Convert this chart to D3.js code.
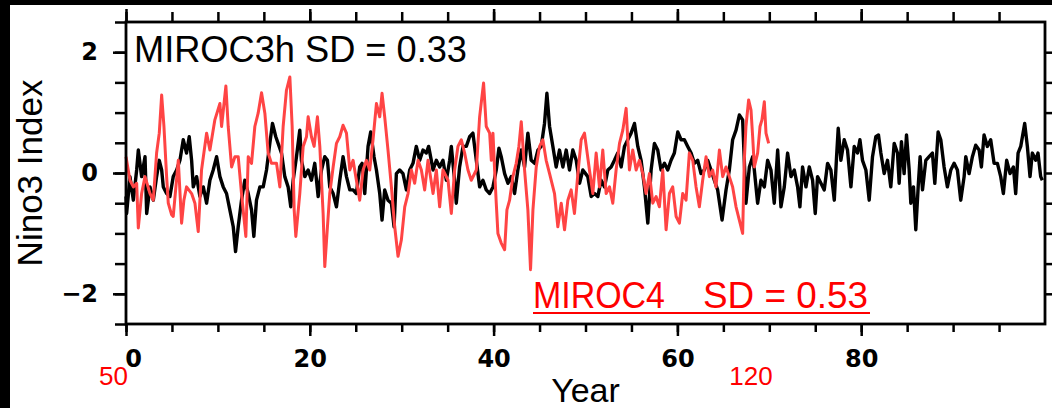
<meta charset='utf-8'>
<script src="https://d3js.org/d3.v7.min.js"></script>
<style>
  body { margin: 0; background: #fff; }
</style>
<body></body>
<script>

// DATA (years since start / index value)
var miroc3hYear = [0,0.07,0.43,0.80,1.16,1.34,1.70,2.07,2.25,2.61,2.97,3.33,3.62,3.88,4.06,4.42,4.78,5.14,5.51,5.87,
  6.23,6.59,6.88,7.14,7.32,7.68,8.04,8.41,8.77,9.13,9.49,9.86,10.22,10.58,10.94,11.30,11.67,11.92,12.21,12.57,
  12.93,13.30,13.66,13.91,14.20,14.57,14.93,15.29,15.65,15.94,16.30,16.92,17.28,17.64,17.93,18.19,18.55,18.91,19.09,19.46,
  19.82,20.18,20.54,20.91,21.27,21.63,21.92,22.17,22.54,22.90,23.26,23.62,23.99,24.35,24.71,25.07,25.43,25.69,25.98,26.34,
  26.63,26.99,27.25,27.61,27.86,28.15,28.51,28.88,29.17,29.42,29.78,30.14,30.51,30.87,31.23,31.59,31.96,32.32,32.68,32.93,
  33.22,33.41,33.77,34.13,34.49,34.86,35.22,35.40,35.76,35.94,36.30,36.67,37.03,37.39,37.75,38.12,38.48,38.84,39.20,39.57,
  39.93,40.29,40.58,40.83,41.20,41.56,41.92,42.28,42.64,43.01,43.37,43.73,44.09,44.46,44.82,45.18,45.54,45.80,46.09,46.45,
  46.81,47.17,47.54,47.90,48.26,48.62,48.99,49.35,49.71,50.25,50.62,50.98,51.34,51.70,52.07,52.43,52.79,53.15,53.51,53.88,
  54.24,54.60,54.96,55.33,55.69,56.05,56.41,56.78,57.14,57.50,57.86,58.22,58.59,58.95,59.31,59.67,60.04,60.40,60.76,61.12,
  61.49,61.85,62.21,62.57,62.93,63.30,63.66,64.02,64.38,64.86,65.29,65.65,66.01,66.38,66.74,67.10,67.28,67.46,67.83,68.19,
  68.37,68.73,69.09,69.46,69.82,70.18,70.54,70.91,71.27,71.63,71.99,72.36,72.72,73.08,73.33,73.62,73.99,74.35,74.71,75.00,
  75.25,75.62,75.98,76.34,76.70,77.07,77.32,77.50,77.79,78.15,78.51,78.88,79.24,79.60,79.86,80.14,80.51,80.87,81.23,81.59,
  81.88,82.14,82.50,82.86,83.22,83.59,83.95,84.13,84.38,84.67,84.93,85.22,85.40,85.69,85.94,86.20,86.41,86.67,87.03,87.39,
  87.75,88.01,88.37,88.66,89.02,89.38,89.75,90.11,90.47,90.83,91.20,91.38,91.74,92.10,92.46,92.83,93.08,93.37,93.73,94.09,
  94.46,94.82,95.18,95.47,95.83,96.20,96.56,96.81,97.07,97.36,97.79,98.08,98.37,98.62,98.99,99.24,99.53,99.71];
var miroc3h = [-0.39,-0.67,-0.06,-0.45,0.05,0.38,-0.06,0.27,-0.67,-0.23,-0.45,-0.06,0.21,0.05,-0.23,-0.34,-0.39,-0.06,0.05,0.21,
  0.55,0.33,0.60,0.21,-0.23,-0.06,-0.39,-0.23,-0.50,-0.12,0.05,0.27,-0.06,-0.23,-0.34,-0.61,-0.89,-1.30,-0.89,-0.45,
  -0.12,-0.34,-0.61,-1.05,-0.45,-0.23,-0.23,0.05,0.49,0.82,0.60,0.33,-0.06,-0.23,-0.56,-0.12,0.27,0.71,0.21,-0.06,
  0.05,-0.12,0.16,-0.39,0.05,0.27,0.21,-0.23,-0.34,-0.56,-0.12,0.27,-0.06,-0.28,-0.28,-0.34,0.10,0.16,-0.34,0.44,
  0.68,0.27,0.05,-0.34,-0.78,-0.28,-0.45,-0.50,-0.89,-0.01,0.05,-0.01,-0.28,0.05,0.16,0.44,0.21,0.38,0.33,0.44,
  0.21,0.05,0.21,0.10,0.21,-0.12,0.21,0.44,-0.12,-0.50,0.10,0.44,0.44,0.60,0.66,0.21,-0.23,-0.12,-0.28,-0.34,
  -0.23,0.05,0.41,0.27,-0.01,-0.17,-0.06,-0.34,0.05,0.38,0.10,0.66,0.21,0.16,0.38,0.44,0.82,1.32,0.77,0.44,
  0.10,0.38,0.10,0.38,0.05,0.38,0.21,-0.17,0.05,-0.06,-0.39,-0.34,-0.39,-0.12,-0.23,0.05,0.10,0.21,0.33,0.10,
  0.44,0.55,0.66,0.82,0.44,0.21,-0.23,-0.83,0.05,0.49,0.38,0.05,0.16,0.05,0.21,0.33,0.68,0.55,0.55,0.44,
  0.33,0.16,0.21,-0.01,0.05,0.21,0.05,-0.12,-0.28,-0.78,-0.28,0.05,0.55,0.71,0.96,0.88,0.21,-0.50,0.10,0.27,
  0.05,-0.50,-0.12,-0.23,0.21,0.05,-0.50,0.38,-0.56,-0.23,0.33,-0.06,0.05,-0.23,-0.56,0.10,-0.23,0.10,-0.12,-0.67,
  -0.06,-0.17,-0.28,0.16,0.05,-0.45,0.27,0.74,0.21,0.55,0.38,-0.23,0.44,0.33,0.55,0.21,0.05,-0.45,0.27,0.60,
  0.63,0.33,-0.01,0.21,-0.23,0.49,0.33,-0.17,0.52,-0.01,0.63,0.05,-0.50,-0.23,-0.94,-0.23,0.27,-0.28,0.21,0.27,
  0.33,-0.17,0.68,0.55,0.10,-0.23,0.05,0.16,0.05,-0.45,-0.06,0.27,-0.01,0.27,0.46,0.38,0.10,0.63,0.44,0.55,
  0.16,0.16,-0.06,-0.34,0.21,-0.01,0.10,-0.34,0.33,0.44,0.82,0.44,-0.06,0.33,0.21,0.33,-0.06,-0.12];

var miroc4Year = [0,0.43,0.80,1.16,1.34,1.70,2.07,2.61,2.97,3.33,3.62,3.88,4.13,4.42,4.60,4.96,5.14,5.43,5.69,6.05,
  6.30,6.59,7.14,7.50,7.86,8.22,8.77,9.13,9.67,10.22,10.40,10.87,11.12,11.49,11.85,12.21,12.57,13.04,13.30,13.66,
  14.02,14.38,14.75,15.11,15.47,15.83,16.38,16.74,17.10,17.46,17.83,18.08,18.30,18.48,18.91,19.28,19.64,19.82,20.18,20.47,
  20.83,21.09,21.45,21.63,21.92,22.17,22.54,22.90,23.26,23.62,23.99,24.35,24.71,25.07,25.43,25.80,26.16,26.52,26.88,27.25,
  27.61,27.86,28.15,28.51,28.88,29.24,29.60,29.96,30.33,30.69,31.05,31.41,31.78,32.14,32.50,32.86,33.41,33.77,34.13,34.49,
  35.04,35.40,35.76,36.12,36.49,36.85,37.21,37.57,38.12,38.48,38.73,38.91,39.20,39.57,39.75,39.93,40.11,40.29,40.47,40.83,
  41.20,41.45,41.74,42.10,42.46,42.75,43.01,43.37,43.73,44.02,44.28,44.64,45.00,45.36,45.72,46.09,46.63,46.99,47.36,47.72,
  48.08,48.44,48.80,49.17,49.53,49.89,50.43,50.80,51.16,51.52,51.88,52.25,52.61,52.97,53.33,53.70,54.06,54.42,54.78,55.14,
  55.51,55.87,56.23,56.59,56.96,57.32,57.68,58.04,58.41,58.77,59.13,59.49,59.86,60.22,60.58,60.94,61.30,61.67,62.03,62.39,
  62.75,63.12,63.48,63.84,64.20,64.57,64.93,65.29,65.65,66.01,66.38,66.74,67.10,67.28,67.46,67.75,68.01,68.19,68.37,68.73,
  68.99,69.20,69.46,69.64,69.93];
var miroc4 = [0.27,-0.12,-0.23,-0.17,-0.91,-0.34,-0.06,-0.34,-0.45,0.33,0.66,1.29,0.77,-0.06,-0.50,-0.69,-0.72,-0.23,0.21,-0.83,
  -0.45,-0.23,-0.34,-0.50,-0.97,0.05,0.66,0.38,0.88,1.15,0.77,1.44,0.77,0.10,0.27,0.27,-0.34,-1.05,0.27,0.16,
  0.77,0.99,1.33,0.99,0.33,0.16,0.16,-0.23,0.77,1.37,1.59,0.77,-0.61,-1.05,-0.34,0.44,0.60,0.93,0.60,0.44,
  0.93,0.44,-0.67,-1.55,-0.89,-0.34,0.10,0.49,0.60,0.79,0.66,0.05,0.21,-0.12,-0.45,0.05,0.21,0.05,0.55,1.15,
  0.93,1.32,0.93,0.38,-0.23,-0.89,-1.38,-1.11,-0.56,-0.34,0.05,-0.17,0.21,0.05,-0.28,0.21,-0.34,0.05,-0.56,0.05,
  -0.12,-0.67,0.05,0.44,0.55,0.33,0.05,-0.12,0.05,0.93,1.26,1.49,0.77,0.66,0.21,0.66,0.05,-0.50,-1.00,-1.16,
  -1.27,-0.61,-0.45,-0.06,0.16,0.44,0.85,0.05,-0.61,-1.60,-0.61,0.10,0.44,0.55,0.21,-0.01,-0.34,-0.89,-0.50,-0.94,
  -0.45,-0.28,-0.67,-0.01,0.55,0.66,0.05,-0.34,0.33,-0.23,0.38,-0.34,-0.23,-0.50,0.05,0.49,0.71,1.07,0.05,0.38,
  0.05,0.21,-0.01,-0.34,-0.01,-0.50,-0.39,-0.56,0.05,-0.94,-0.34,-0.23,-0.72,-0.83,-0.34,-0.45,0.33,0.21,-0.23,-0.56,
  -0.12,0.27,-0.06,0.05,-0.23,0.38,-0.06,0.10,-0.06,-0.23,-0.56,-0.78,-1.00,0.21,0.77,1.21,1.04,0.60,0.10,0.33,
  0.77,0.88,1.18,0.66,0.49];

var xMajor = [0, 20, 40, 60, 80];
var xMinor = d3.range(0, 100, 5);
var yMajor = [-2, 0, 2];
var yMinor = d3.range(-2.5, 2.51, 0.5);
var yMinorRight = d3.range(-2, 2.01, 0.5);

// SETUP
var ww = 1052, wh = 408;
var svg = d3.select('body').append('svg')
    .attr('width', ww)
    .attr('height', wh);
svg.append('rect').attr('width', ww).attr('height', wh).attr('fill', '#fff');
svg.append('rect').attr('x', 0).attr('y', 0).attr('width', 10).attr('height', wh).attr('fill', '#000');
svg.append('rect').attr('x', 0).attr('y', 0).attr('width', ww).attr('height', 5).attr('fill', '#000');

var x = d3.scaleLinear().domain([0, 100]).range([126, 1045]);
var y = d3.scaleLinear().domain([-2.5, 2.5]).range([324, 22]);

// LINES
var line = d3.line()
    .x(function (d) { return x(d[0]); })
    .y(function (d) { return y(d[1]); });

svg.append('path')
    .datum(d3.zip(miroc3hYear, miroc3h))
    .attr('d', line)
    .attr('fill', 'none')
    .attr('stroke', '#000')
    .attr('stroke-width', 3.4)
    .attr('stroke-linejoin', 'round');

svg.append('path')
    .datum(d3.zip(miroc4Year, miroc4))
    .attr('d', line)
    .attr('fill', 'none')
    .attr('stroke', '#ff4444')
    .attr('stroke-width', 3)
    .attr('stroke-linejoin', 'round');

// AXES
function tidy(g) {
    g.select('.domain').remove();
    g.selectAll('line').attr('stroke', '#000').attr('stroke-width', 2.5);
}
var tickFont = 'DejaVu Sans, sans-serif';

svg.append('g').attr('transform', 'translate(0,324)')
    .call(d3.axisBottom(x).tickValues(xMinor).tickSize(8).tickFormat(''))
    .call(tidy);
var bx = svg.append('g').attr('transform', 'translate(0,324)')
    .call(d3.axisBottom(x).tickValues(xMajor).tickSize(12).tickFormat(d3.format('d')))
    .call(tidy);
bx.selectAll('text')
    .attr('y', 43).attr('dy', null)
    .attr('dx', function (d) { return d === 0 ? 7 : 0; })
    .attr('fill', '#000')
    .style('font-family', tickFont)
    .style('font-weight', 'bold')
    .style('font-size', '24px');

svg.append('g').attr('transform', 'translate(0,22)')
    .call(d3.axisTop(x).tickValues(xMinor).tickSize(10).tickFormat(''))
    .call(tidy);
svg.append('g').attr('transform', 'translate(0,22)')
    .call(d3.axisTop(x).tickValues(xMajor).tickSize(13).tickFormat(''))
    .call(tidy);

svg.append('g').attr('transform', 'translate(126,0)')
    .call(d3.axisLeft(y).tickValues(yMinor).tickSize(11).tickFormat(''))
    .call(tidy);
var ly = svg.append('g').attr('transform', 'translate(126,0)')
    .call(d3.axisLeft(y).tickValues(yMajor).tickSize(13).tickPadding(15)
        .tickFormat(function (d) { return d < 0 ? '\u2212' + (-d) : d; }))
    .call(tidy);
ly.selectAll('text')
    .attr('fill', '#000')
    .style('font-family', tickFont)
    .style('font-weight', 'bold')
    .style('font-size', '24px');

svg.append('g').attr('transform', 'translate(1045,0)')
    .call(d3.axisRight(y).tickValues(yMinorRight).tickSize(9).tickFormat(''))
    .call(tidy);

// frame
svg.append('rect')
    .attr('x', x(0)).attr('y', y(2.5))
    .attr('width', x(100) - x(0)).attr('height', y(-2.5) - y(2.5))
    .attr('fill', 'none')
    .attr('stroke', '#000')
    .attr('stroke-width', 2.8);

// LABELS
var labFont = 'Liberation Sans, Arial, sans-serif';
svg.append('text')
    .attr('transform', 'translate(42,' + y(0) + ') rotate(-90)')
    .attr('text-anchor', 'middle')
    .style('font-family', labFont)
    .style('font-size', '35px')
    .text('Nino3 Index');
svg.append('text')
    .attr('x', x(50)).attr('y', 402)
    .attr('text-anchor', 'middle')
    .style('font-family', labFont)
    .style('font-size', '34px')
    .text('Year');

svg.append('text')
    .attr('x', 134).attr('y', 62)
    .attr('textLength', 333).attr('lengthAdjust', 'spacingAndGlyphs')
    .style('font-family', labFont)
    .style('font-size', '37px')
    .text('MIROC3h SD = 0.33');

svg.append('text')
    .attr('x', 533).attr('y', 308)
    .attr('textLength', 132).attr('lengthAdjust', 'spacingAndGlyphs')
    .attr('fill', '#ff0000')
    .style('font-family', labFont)
    .style('font-size', '37px')
    .text('MIROC4');
svg.append('text')
    .attr('x', 703).attr('y', 308)
    .attr('textLength', 165).attr('lengthAdjust', 'spacingAndGlyphs')
    .attr('fill', '#ff0000')
    .style('font-family', labFont)
    .style('font-size', '37px')
    .text('SD = 0.53');
svg.append('line')
    .attr('x1', 533).attr('x2', 870)
    .attr('y1', 313).attr('y2', 313)
    .attr('stroke', '#ff0000')
    .attr('stroke-width', 2);

svg.append('text')
    .attr('x', x(0) + 2).attr('y', 385)
    .attr('text-anchor', 'end')
    .attr('fill', '#ff0000')
    .style('font-family', labFont)
    .style('font-size', '26px')
    .text('50');
svg.append('text')
    .attr('x', x(68)).attr('y', 385)
    .attr('text-anchor', 'middle')
    .attr('fill', '#ff0000')
    .style('font-family', labFont)
    .style('font-size', '26px')
    .text('120');

</script>
